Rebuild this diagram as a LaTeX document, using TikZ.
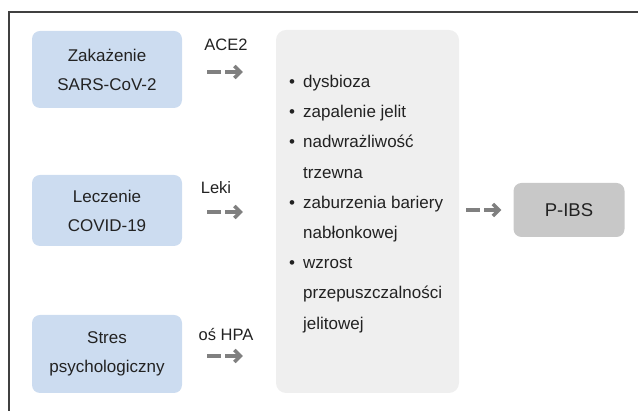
\documentclass[tikz,border=0pt]{standalone}
\usepackage{fontspec}
\setmainfont{Liberation Sans}
\usetikzlibrary{arrows.meta}
\definecolor{hellblau}{HTML}{CCDCF0}
\definecolor{hellgrau}{HTML}{EFEFEF}
\definecolor{mittelgrau}{HTML}{C8C8C8}
\definecolor{pfeilgrau}{HTML}{808080}
\definecolor{textfarbe}{HTML}{222222}

\begin{document}
\begin{tikzpicture}[x=1pt, y=1pt, >={Straight Barb[length=6pt, width=12pt]},
  ursache/.style={rounded corners=8pt, fill=hellblau, minimum width=150pt,
    align=center, text=textfarbe, font=\fontsize{17}{29}\selectfont},
  pfeil/.style={->, draw=pfeilgrau, line width=3.5pt,
    dash pattern=on 14pt off 4pt on 60pt},
  marke/.style={text=textfarbe, font=\fontsize{16.5}{20}\selectfont, anchor=base}]
\useasboundingbox (0,0) rectangle (638,411);

% Rahmen
\draw[line width=1.2pt, draw=black!75] (9,0) -- (9,399) -- (638,399);

% Ursachen
\node[ursache, minimum height=77pt] (zak)   at (107,341.5) {Zakażenie\\SARS-CoV-2};
\node[ursache, minimum height=71pt] (lecz)  at (107,200.5) {Leczenie\\COVID-19};
\node[ursache, minimum height=78pt] (stres) at (107,57)    {Stres\\psychologiczny};

% Mechanismen
\node[rounded corners=10pt, fill=hellgrau, minimum width=183pt, minimum height=363pt]
  (objawy) at (367.5,199.5) {};
\node[anchor=west, align=left, inner sep=0pt, text=textfarbe,
  font=\fontsize{17}{30.2}\selectfont] (lista) at (289,207)
  {\makebox[14pt][l]{•}dysbioza\\
   \makebox[14pt][l]{•}zapalenie jelit\\
   \makebox[14pt][l]{•}nadwrażliwość\\
   \makebox[14pt][l]{}trzewna\\
   \makebox[14pt][l]{•}zaburzenia bariery\\
   \makebox[14pt][l]{}nabłonkowej\\
   \makebox[14pt][l]{•}wzrost\\
   \makebox[14pt][l]{}przepuszczalności\\
   \makebox[14pt][l]{}jelitowej};

% Ergebnis
\node[rounded corners=8pt, fill=mittelgrau, minimum width=111pt, minimum height=54pt,
  text=textfarbe, font=\fontsize{18.5}{22}\selectfont] (pibs) at (569,201) {P-IBS};

% Pfeile
\draw[pfeil, shorten <=25pt, shorten >=33pt]
  ([yshift=-2.5pt]zak.east) -- ([yshift=-2.5pt]zak.east -| objawy.west)
  node[marke, midway, xshift=-3pt, yshift=21pt] {ACE2};
\draw[pfeil, shorten <=25pt, shorten >=33pt]
  ([yshift=-1.5pt]lecz.east) -- ([yshift=-1.5pt]lecz.east -| objawy.west)
  node[marke, midway, xshift=-13pt, yshift=18pt] {Leki};
\draw[pfeil, shorten <=25pt, shorten >=33pt]
  ([yshift=-2pt]stres.east) -- ([yshift=-2pt]stres.east -| objawy.west)
  node[marke, midway, xshift=-3pt, yshift=15pt] {oś HPA};

\draw[pfeil, shorten <=7pt, shorten >=12pt] (objawy.east |- pibs.west) -- (pibs.west);

\end{tikzpicture}
\end{document}
